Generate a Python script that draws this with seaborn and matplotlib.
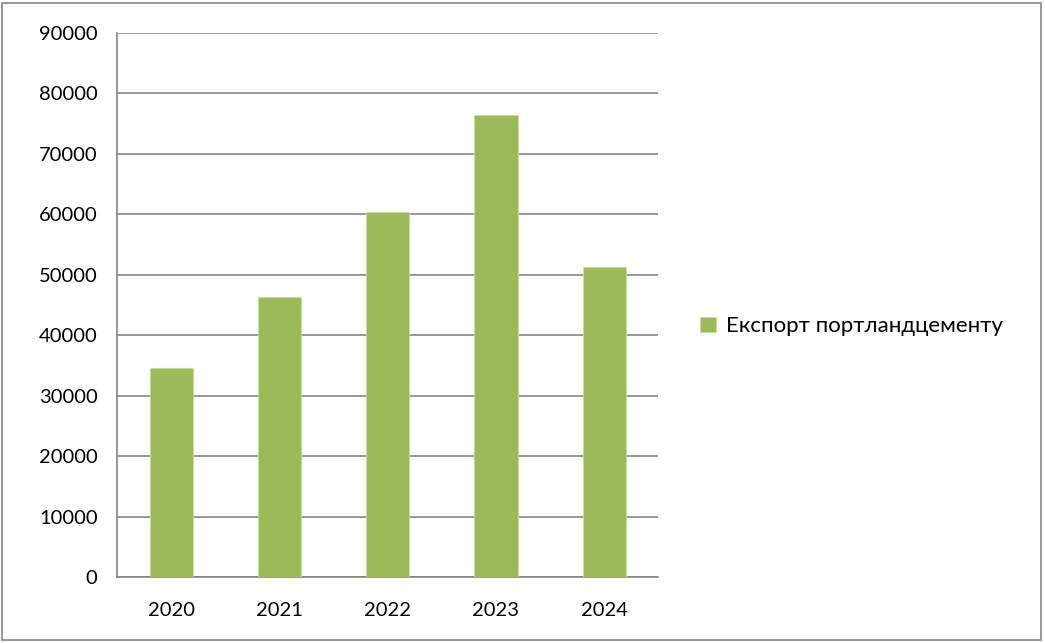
import matplotlib
matplotlib.use("Agg")
import matplotlib.pyplot as plt
import seaborn as sns
import pandas as pd
from matplotlib.patches import Rectangle
from matplotlib.ticker import FixedLocator

# Дані: експорт портландцементу за роками
roky = ["2020", "2021", "2022", "2023", "2024"]
eksport = [34600, 46300, 60400, 76400, 51300]
nazva_ryadu = "Експорт портландцементу"

df = pd.DataFrame({"Рік": roky, "Експорт": eksport})

sns.set_style("white")
plt.rcParams["font.family"] = ["Lato", "DejaVu Sans"]
plt.rcParams["text.color"] = "black"

fig = plt.figure(figsize=(10.45, 6.43), dpi=100)
ax = fig.add_axes([0.112, 0.1026, 0.518, 0.8461])

sns.barplot(data=df, x="Рік", y="Експорт", color="#9BBB59", width=0.4,
            edgecolor="#c9dca6", linewidth=0.6, saturation=1, ax=ax, zorder=3,
            label=nazva_ryadu)

ax.set_ylim(0, 90000)
ax.set_xlim(-0.5, 4.5)
ax.set_yticks(range(0, 90001, 10000))
ax.yaxis.grid(True, color="#868686", linewidth=1.2, zorder=0)
ax.set_xlabel("")
ax.set_ylabel("")

for s in ["top", "right"]:
    ax.spines[s].set_visible(False)
for s in ["left", "bottom"]:
    ax.spines[s].set_color("#868686")
    ax.spines[s].set_linewidth(1.2)

ax.tick_params(axis="y", length=6, color="#868686", width=1.2, labelsize=14.5,
               pad=8, labelcolor="black")
ax.tick_params(axis="x", which="major", length=0, labelsize=14.5, pad=18,
               labelcolor="black")
ax.xaxis.set_minor_locator(FixedLocator([-0.5, 0.5, 1.5, 2.5, 3.5, 4.5]))
ax.tick_params(axis="x", which="minor", length=6, color="#868686", width=1.2)

leg = ax.legend(loc="center left", bbox_to_anchor=(1.04, 0.461), frameon=False,
                fontsize=16, handlelength=0.7, handleheight=0.7, handletextpad=0.45)
for t in leg.get_texts():
    t.set_color("black")

fig.patches.append(Rectangle((0.002, 0.004), 0.994, 0.992, transform=fig.transFigure,
                             fill=False, edgecolor="#868686", linewidth=1.2))

fig.savefig("out.png", dpi=100)
